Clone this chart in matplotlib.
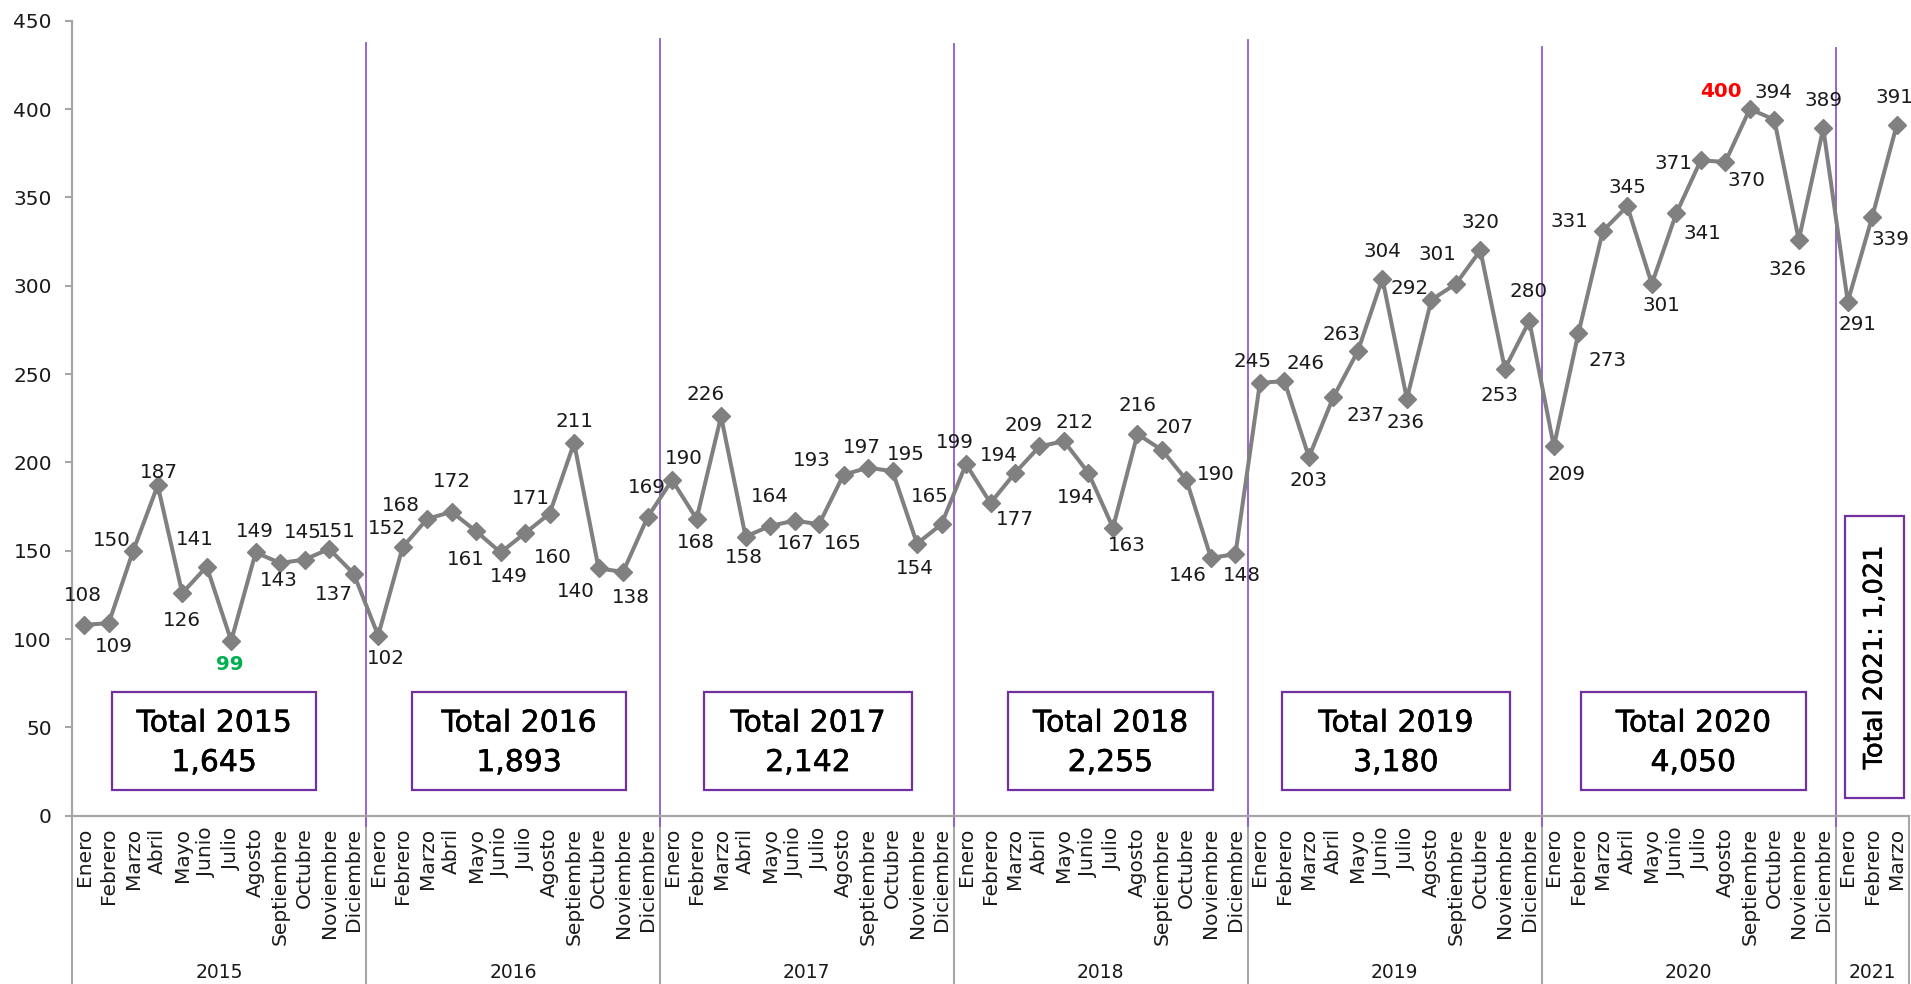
import numpy as np
import matplotlib
matplotlib.use("Agg")
import matplotlib.pyplot as plt
import matplotlib.transforms as mtransforms
import matplotlib.patheffects as pe
from matplotlib.patches import Rectangle

plt.rcParams['font.family'] = ['DejaVu Sans']

# ---------------- data ----------------
months = ['Enero', 'Febrero', 'Marzo', 'Abril', 'Mayo', 'Junio', 'Julio',
          'Agosto', 'Septiembre', 'Octubre', 'Noviembre', 'Diciembre']
years = ['2015', '2016', '2017', '2018', '2019', '2020', '2021']
v2015 = [108, 109, 150, 187, 126, 141, 99, 149, 143, 145, 151, 137]
v2016 = [102, 152, 168, 172, 161, 149, 160, 171, 211, 140, 138, 169]
v2017 = [190, 168, 226, 158, 164, 167, 165, 193, 197, 195, 154, 165]
v2018 = [199, 177, 194, 209, 212, 194, 163, 216, 207, 190, 146, 148]
v2019 = [245, 246, 203, 237, 263, 304, 236, 292, 301, 320, 253, 280]
v2020 = [209, 273, 331, 345, 301, 341, 371, 370, 400, 394, 326, 389]
v2021 = [291, 339, 391]
yearly = [v2015, v2016, v2017, v2018, v2019, v2020, v2021]

# ---------------- layout / style ----------------
# label offsets from the point in pixels (dx right, dy down)
label_off = [
    (-1, -31), (5, 22), (-21, -12), (1, -14), (0, 26), (-12, -29), (-1, 22), (-1, -22), (-1, 16), (-2, -29), (8, -19), (-20, 19),
    (8, 21), (-16, -20), (-26, -15), (0, -32), (-10, 27), (8, 23), (28, 23), (-19, -17), (0, -23), (-23, 22), (8, 24), (-1, -31),
    (12, -23), (-1, 22), (-16, -23), (-2, 19), (0, -31), (1, 21), (24, 18), (-32, -16), (-6, -22), (13, -18), (-2, 23), (-12, -29),
    (-11, -23), (24, 15), (-16, -19), (-16, -22), (11, -20), (-13, 23), (14, 16), (0, -30), (13, -24), (29, -7), (-23, 16), (6, 20),
    (-7, -23), (21, -19), (0, 22), (32, 17), (-16, -18), (0, -29), (-1, 22), (-22, -13), (-18, -31), (0, -29), (-5, 25), (-1, -31),
    (13, 27), (29, 26), (-33, -11), (0, -20), (10, 20), (26, 19), (-27, 2), (21, 17), (-29, -19), (-1, -29), (-11, 28), (0, -29),
    (10, 21), (18, 21), (-2, -29),
]
special_color = {99: '#00B050', 400: '#FF0000'}
sep_tops = [437.5, 439.5, 437, 439, 435, 434.5]
# boxes: x-extent in category coords, shared y-extent in data coords
boxes = [(1.14, 9.47), (13.4, 22.1), (25.3, 33.8), (37.7, 46.1), (48.9, 58.2), (61.1, 70.3)]
box_y = (14.5, 70.0)
box21 = (71.9, 74.3, 10.0, 169.7)

PURPLE_BOX = '#7030A0'
PURPLE_LINE = '#8E5CC8'
GRAY_AX = '#A6A6A6'
LINE_GRAY = '#808080'
TXT = '#1A1A1A'
heavy = [pe.withStroke(linewidth=0.4, foreground='black')]

values = [v for yv in yearly for v in yv]
n = len(values)
x = np.arange(n)
cat_labels = [months[i % 12] for i in range(n)]

W, H = 1911, 984
fig = plt.figure(figsize=(W / 100, H / 100), dpi=100)
y0px, y450px = 815.7, 20.7
ax = fig.add_axes([72 / W, (H - y0px) / H, (1909 - 72) / W, (y0px - y450px) / H])

ax.plot(x, values, color=LINE_GRAY, lw=2.9, marker='D', ms=8.8, zorder=3,
        solid_joinstyle='round')
ax.set_xlim(-0.5, n - 0.5)
ax.set_ylim(0, 450)
ax.set_yticks(np.arange(0, 451, 50))
ax.set_xticks(x)
ax.set_xticklabels(cat_labels, rotation=90)

for s in ['top', 'right']:
    ax.spines[s].set_visible(False)
for s in ['left', 'bottom']:
    ax.spines[s].set_color(GRAY_AX)
    ax.spines[s].set_linewidth(1.6)
ax.tick_params(axis='y', length=5, width=1.5, color=GRAY_AX, pad=9.5,
               labelsize=14.5, labelcolor=TXT)
ax.tick_params(axis='x', length=0, pad=8.5, labelsize=14.5, labelcolor=TXT)

# group separators below the axis and year labels
trans = mtransforms.blended_transform_factory(ax.transData, ax.transAxes)
bottom_ax = -(H - y0px) / (y0px - y450px)
bounds = [-0.5]
pos = -0.5
for yv in yearly:
    pos += len(yv)
    bounds.append(pos)
for b in bounds:
    ax.plot([b, b], [0, bottom_ax], transform=trans, color=GRAY_AX, lw=1.5,
            clip_on=False, zorder=1)
year_y = -(973 - y0px) / (y0px - y450px)
for i, yr in enumerate(years):
    xc = (bounds[i] + bounds[i + 1]) / 2
    ax.text(xc, year_y, yr, transform=trans, ha='center', va='center',
            fontsize=13.5, color=TXT)

# purple year separator lines in the plot
for b, top in zip(bounds[1:-1], sep_tops):
    ax.plot([b, b], [-6, top], color=PURPLE_LINE, lw=1.3, clip_on=False, zorder=2)

# data labels
for i, (v, (dx, dy)) in enumerate(zip(values, label_off)):
    c = special_color.get(v, TXT)
    fw = 'bold' if v in special_color else 'normal'
    ax.annotate(str(v), (i, v), xytext=(dx * 0.72, -(dy + 7) * 0.72),
                textcoords='offset points', ha='center', va='baseline',
                fontsize=14.3, color=c, fontweight=fw, zorder=5)

# total boxes
for (bx0, bx1), yr, yv in zip(boxes, years, yearly):
    ax.add_patch(Rectangle((bx0, box_y[0]), bx1 - bx0, box_y[1] - box_y[0],
                           fill=False, edgecolor=PURPLE_BOX, lw=1.6, zorder=4))
    xc = (bx0 + bx1) / 2
    yc = (box_y[0] + box_y[1]) / 2
    ax.annotate(f'Total {yr}', (xc, yc), xytext=(0, 9.5 * 0.72),
                textcoords='offset points', ha='center', va='baseline',
                fontsize=21.5, color='black', zorder=5, path_effects=heavy)
    ax.annotate(f'{sum(yv):,}', (xc, yc), xytext=(0, -30 * 0.72),
                textcoords='offset points', ha='center', va='baseline',
                fontsize=21.5, color='black', zorder=5, path_effects=heavy)

bx0, bx1, by0, by1 = box21
ax.add_patch(Rectangle((bx0, by0), bx1 - bx0, by1 - by0, fill=False,
                       edgecolor=PURPLE_BOX, lw=1.6, zorder=4, clip_on=False))
ax.text((bx0 + bx1) / 2, (by0 + by1) / 2, f'Total {years[-1]}: {sum(v2021):,}',
        rotation=90, ha='center', va='center', fontsize=18.5, color='black',
        zorder=5, path_effects=heavy)

fig.savefig('out.png', dpi=100)
